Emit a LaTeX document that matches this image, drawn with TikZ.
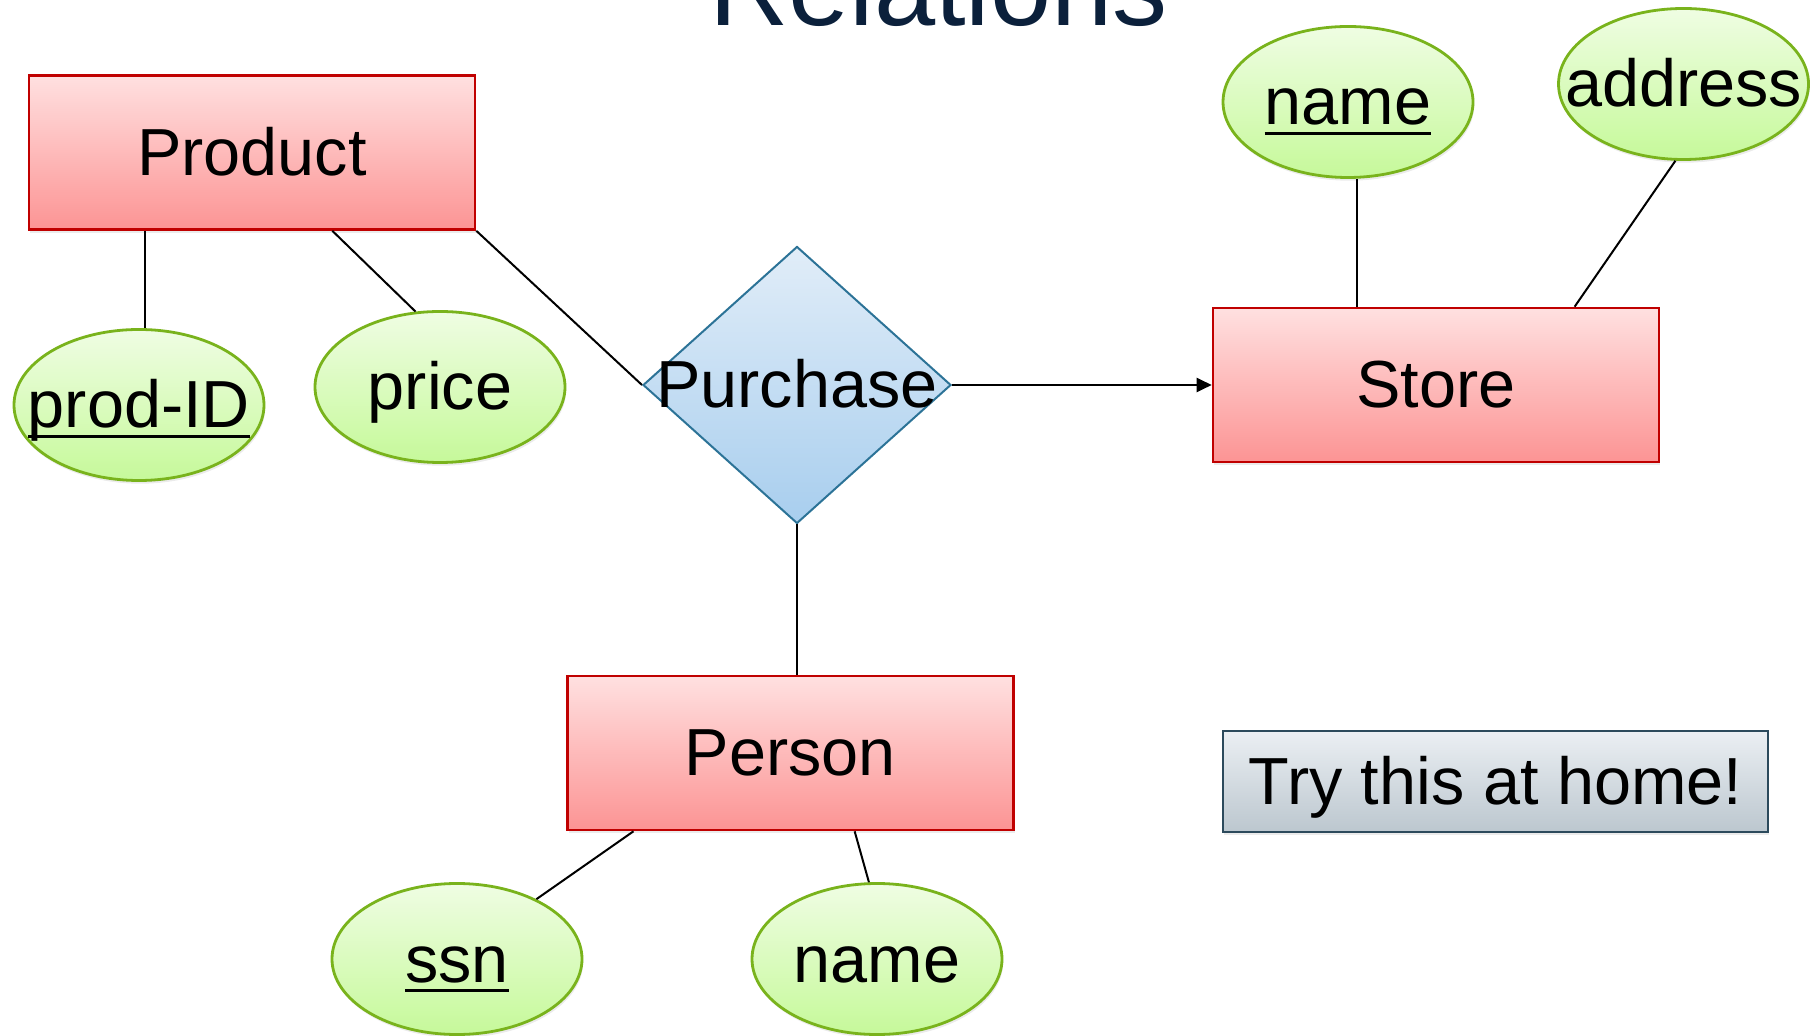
\documentclass[tikz,border=0pt]{standalone}
\usepackage{fontspec}
\setmainfont{Liberation Sans}
\usetikzlibrary{shapes.geometric,arrows.meta,calc,shadows}

% palette
\definecolor{entTop}{HTML}{FFE0E0}
\definecolor{entBot}{HTML}{FC9494}
\definecolor{entEdge}{HTML}{C00000}
\definecolor{attTop}{HTML}{EFFDE3}
\definecolor{attBot}{HTML}{C6F99A}
\definecolor{attEdge}{HTML}{79B31C}
\definecolor{relTop}{HTML}{E1EDF8}
\definecolor{relBot}{HTML}{A8CEEE}
\definecolor{relEdge}{HTML}{2C7397}
\definecolor{noteTop}{HTML}{EBEFF3}
\definecolor{noteBot}{HTML}{BCC7CF}
\definecolor{noteEdge}{HTML}{2C4A5C}
\definecolor{titleC}{HTML}{0B203B}

% underlined key attribute, rule at a fixed depth below the baseline
\newcommand\keyattr[1]{\setbox0=\hbox{#1}\rlap{\rule[-0.15em]{\wd0}{0.05em}}\box0}

\begin{document}
\begin{tikzpicture}[x=0.5pt,y=-0.5pt,
  font=\fontsize{33.3}{40}\selectfont,
  linebox/.style={text height=30.1pt, text depth=7.1pt},
  softshadow/.style={drop shadow={opacity=0.16, shadow xshift=0.6pt, shadow yshift=-1.6pt}},
  entity/.style={rectangle, draw=entEdge, line width=1.3pt,
    top color=entTop, bottom color=entBot, softshadow, linebox,
    minimum width=223pt, minimum height=77pt, inner sep=0pt},
  attr/.style={ellipse, draw=attEdge, line width=1.4pt,
    top color=attTop, bottom color=attBot, softshadow, linebox,
    minimum width=125pt, minimum height=75.5pt, inner sep=0pt},
  rel/.style={diamond, draw=relEdge, line width=1pt,
    top color=relTop, bottom color=relBot, linebox,
    minimum width=154pt, minimum height=138.5pt, inner sep=0pt},
  note/.style={rectangle, draw=noteEdge, line width=1.3pt,
    top color=noteTop, bottom color=noteBot, softshadow, linebox,
    minimum width=272.5pt, minimum height=50.5pt, inner sep=0pt},
  link/.style={line width=1pt, black}]

\useasboundingbox (0,0) rectangle (1820,1036);
\clip (0,0) rectangle (1820,1036);

% heading, partly above the top edge
\node[anchor=base, text=titleC, font=\fontsize{55}{60}\selectfont, inner sep=0pt]
  (title) at (938.5,25.5) {Relations};

% entity sets
\node[entity] (product) at (252,152.5) {Product};
\node[entity] (store)   at (1436,385)  {Store};
\node[entity] (person)  at (790.5,753) {Person};

% relationship
\node[rel] (purchase) at (797,385) {\makebox[0pt]{Purchase}};

% attributes
\node[attr] (prodid)  at (139,405)    {\makebox[0pt]{\keyattr{prod-ID}}};
\node[attr] (price)   at (440,387)    {\makebox[0pt]{price}};
\node[attr] (sname)   at (1348,102)   {\makebox[0pt]{\keyattr{name}}};
\node[attr] (address) at (1683.5,84)  {\makebox[0pt]{address}};
\node[attr] (ssn)     at (457,959)    {\makebox[0pt]{\keyattr{ssn}}};
\node[attr] (pname)   at (877,959)    {\makebox[0pt]{name}};

% note
\node[note] (try) at (1495.5,781.5) {Try this at home!};

% attribute links
\coordinate (p1) at ($(product.south west)!0.262!(product.south east)$);
\coordinate (p2) at ($(product.south west)!0.679!(product.south east)$);
\coordinate (s1) at ($(store.north west)!0.323!(store.north east)$);
\coordinate (s2) at ($(store.north west)!0.809!(store.north east)$);
\coordinate (q1) at ($(person.south west)!0.15!(person.south east)$);
\coordinate (q2) at ($(person.south west)!0.643!(person.south east)$);

\draw[link] (p1) -- (p1 |- prodid.north);
\draw[link] (p2) -- (price.108);
\draw[link] (s1) -- (s1 |- sname.south);
\draw[link] (s2) -- (address.264);
\draw[link] (q1) -- (ssn.37.5);
\draw[link] (q2) -- (pname.96);

% relationship links
\draw[link] (product.south east) -- (purchase.west);
\draw[link] (purchase.south) -- (purchase.south |- person.north);
\draw[link, -{Triangle[length=7.5pt,width=7pt]}] (purchase.east) -- (store.west);

\end{tikzpicture}
\end{document}
